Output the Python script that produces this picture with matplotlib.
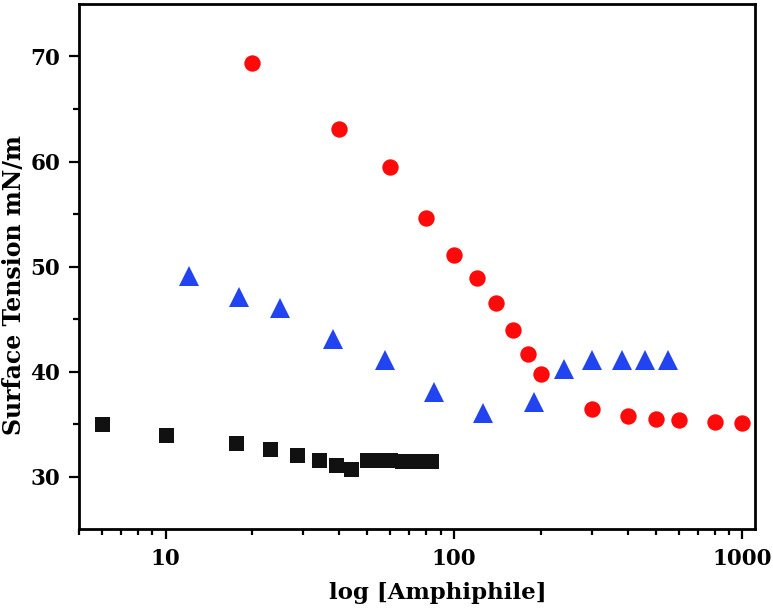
import matplotlib
matplotlib.use("Agg")
import matplotlib.pyplot as plt
from matplotlib.ticker import FixedLocator, LogLocator, NullFormatter

# black squares
sq_x = [6, 10, 17.5, 23, 28.5, 34, 39, 44, 50, 55, 60, 66, 72, 78, 83]
sq_y = [35.0, 34.0, 33.2, 32.6, 32.1, 31.6, 31.1, 30.7, 31.6, 31.6, 31.6, 31.5, 31.5, 31.5, 31.5]

# red circles
ci_x = [20, 40, 60, 80, 100, 120, 140, 160, 180, 200, 300, 400, 500, 600, 800, 1000]
ci_y = [69.4, 63.1, 59.5, 54.6, 51.1, 48.9, 46.5, 44.0, 41.7, 39.8, 36.4, 35.8, 35.5, 35.4, 35.2, 35.1]

# blue triangles
tr_x = [12, 18, 25, 38, 57.5, 85, 126, 190, 240, 300, 383, 460, 553]
tr_y = [49.1, 47.1, 46.1, 43.1, 41.1, 38.1, 36.1, 37.1, 40.2, 41.1, 41.1, 41.1, 41.1]

plt.rcParams['font.family'] = ['DejaVu Serif']
plt.rcParams['font.weight'] = 'bold'

fig = plt.figure(figsize=(7.73, 6.11), dpi=100)
ax = fig.add_axes([0.102, 0.134, 0.875, 0.8595])

ax.plot(sq_x, sq_y, 's', color='#111111', ms=10.8, mew=0)
ax.plot(ci_x, ci_y, 'o', color='#ff0a0a', ms=11.8, mew=0)
ax.plot(tr_x, tr_y, '^', color='#2244f0', ms=14, mew=0)

ax.set_xscale('log')
ax.set_xlim(5, 1107)
ax.set_ylim(25, 75)
ax.set_xticks([10, 100, 1000])
ax.set_xticklabels(['10', '100', '1000'])
ax.xaxis.set_minor_locator(LogLocator(base=10, subs=range(2, 10)))
ax.xaxis.set_minor_formatter(NullFormatter())
ax.set_yticks([30, 40, 50, 60, 70])
ax.yaxis.set_minor_locator(FixedLocator([35, 45, 55, 65]))

for s in ax.spines.values():
    s.set_linewidth(2)
ax.tick_params(which='major', direction='out', length=7.5, width=1.6, labelsize=15.5, pad=6)
ax.tick_params(which='minor', direction='out', length=4, width=1.6)
ax.tick_params(top=False, right=False, which='both')

ax.set_xlabel('log [Amphiphile]', fontsize=16.5, fontweight='bold', va='center')
ax.set_ylabel('Surface Tension mN/m', fontsize=17, fontweight='bold', va='center')
ax.xaxis.set_label_coords(0.53, -0.122)
ax.yaxis.set_label_coords(-0.096, 0.465)

fig.savefig('out.png', dpi=100)
